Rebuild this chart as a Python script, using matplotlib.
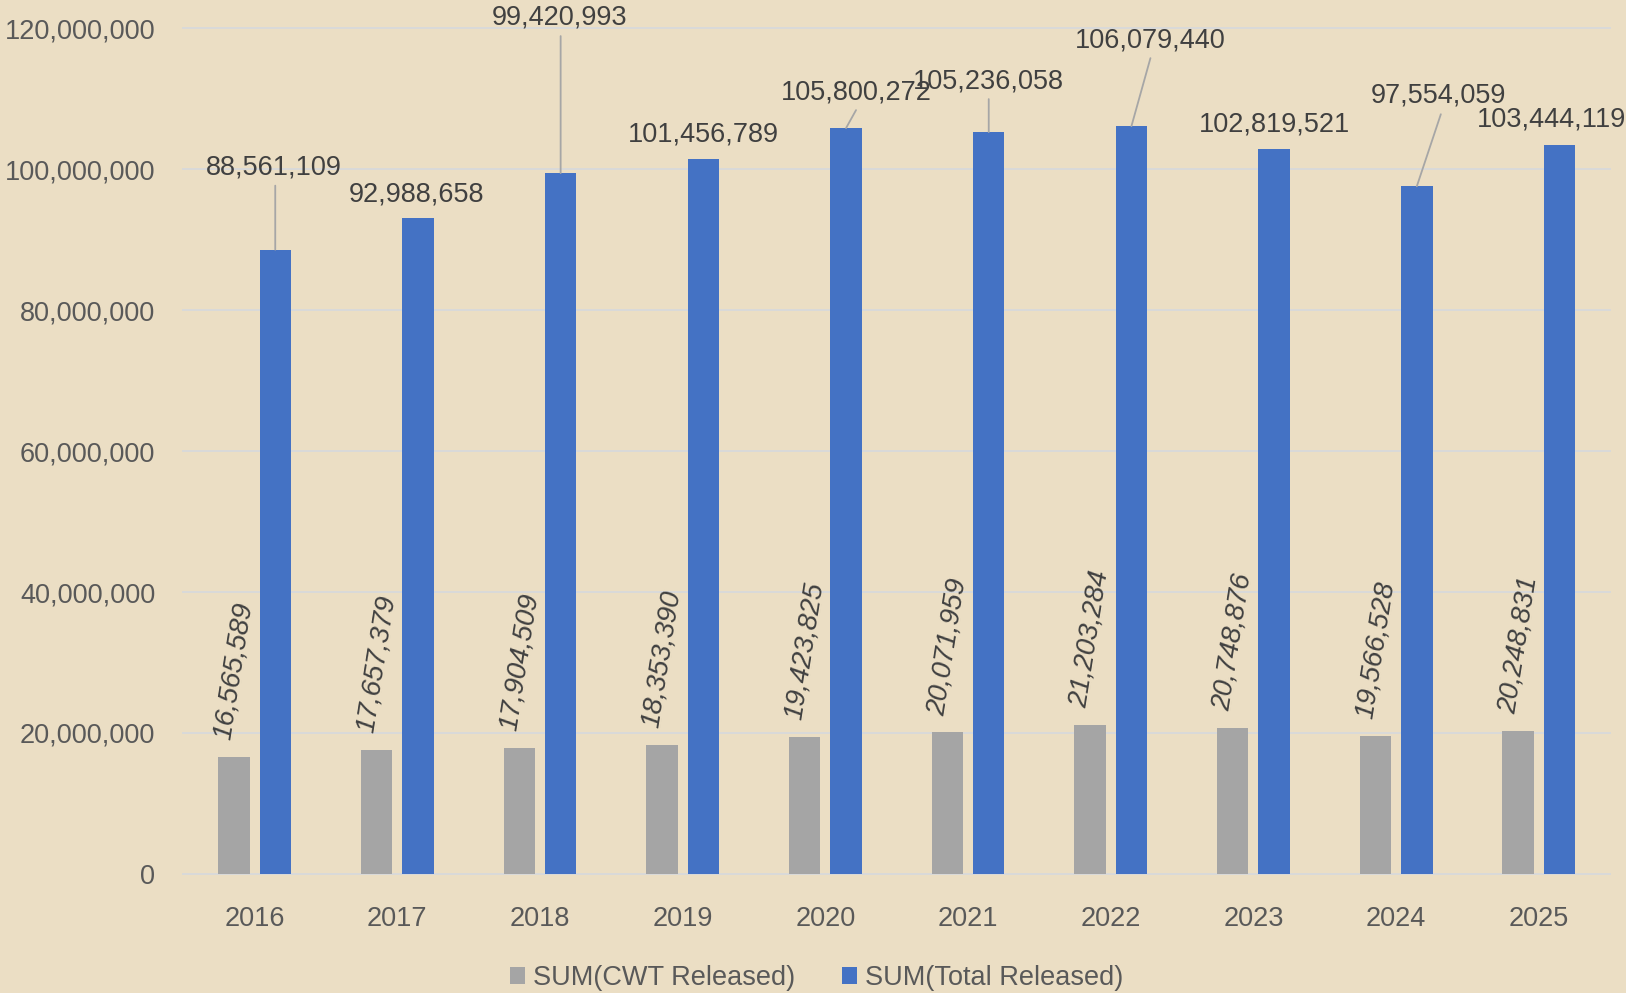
import matplotlib
matplotlib.use('Agg')
import matplotlib.pyplot as plt
from matplotlib.patches import Patch
import numpy as np

plt.rcParams['font.family'] = ['Liberation Sans', 'DejaVu Sans']

years = ['2016', '2017', '2018', '2019', '2020', '2021', '2022', '2023', '2024', '2025']
cwt_released = [16565589, 17657379, 17904509, 18353390, 19423825,
                20071959, 21203284, 20748876, 19566528, 20248831]
total_released = [88561109, 92988658, 99420993, 101456789, 105800272,
                  105236058, 106079440, 102819521, 97554059, 103444119]

# where the total labels sit, pixels from the top of the bar (x, baseline)
lbl_dx = [-1, -1, -1, 0, 10, 0, 19, 0, 22, -8]
lbl_dy = [75, 17, 149, 17, 29, 44, 79, 18, 84, 18]
# leader line end, pixels from bar top (None = no leader)
leaders = [(0, 64), None, (0, 137), None, (10, 18), (0, 33), (19, 68), None, (24, 72), None]

bg = '#EBDEC4'
grey = '#A5A5A5'
blue = '#4472C4'

fig = plt.figure(figsize=(16.26, 9.93), dpi=100, facecolor=bg)
ax = fig.add_axes([0.11267, 0.11984, 0.87761, 0.85196], facecolor=bg)

x = np.arange(len(years))
w = 0.22
off = 0.145
ax.bar(x - off, cwt_released, w, color=grey, zorder=3)
ax.bar(x + off, total_released, w, color=blue, zorder=3)

ax.set_xlim(-0.5, len(years) - 0.5)
ax.set_ylim(0, 120e6)
ax.set_yticks(np.arange(0, 120e6 + 1, 20e6))
ax.yaxis.set_major_formatter(matplotlib.ticker.FuncFormatter(lambda v, p: '{:,.0f}'.format(v)))
ax.set_xticks(x)
ax.set_xticklabels(years)
ax.tick_params(axis='both', length=0, labelsize=19.5, labelcolor='#595959')
ax.tick_params(axis='y', pad=20)
ax.tick_params(axis='x', pad=23)
for s in ax.spines.values():
    s.set_visible(False)
ax.grid(axis='y', color='#D9D9D9', linewidth=1.4, zorder=0)
for gl in ax.get_ygridlines():
    gl.set_clip_on(False)

# rotated grey labels
for i, v in enumerate(cwt_released):
    ax.annotate('{:,}'.format(v), xy=(x[i] - off, v), xytext=(0, 15.5),
                textcoords='offset pixels', rotation=81, ha='center', va='bottom',
                fontsize=20, style='italic', color='#404040', annotation_clip=False)

# total labels + leader lines
for i, v in enumerate(total_released):
    if leaders[i] is not None:
        ax.annotate('', xy=(x[i] + off, v), xytext=leaders[i], textcoords='offset pixels',
                    arrowprops=dict(arrowstyle='-', color='#A6A6A6', lw=1.3,
                                    shrinkA=0, shrinkB=0),
                    annotation_clip=False, zorder=4)
    ax.annotate('{:,}'.format(v), xy=(x[i] + off, v), xytext=(lbl_dx[i], lbl_dy[i]),
                textcoords='offset pixels', ha='center', va='baseline',
                fontsize=19.5, color='#404040', annotation_clip=False, zorder=5)

handles = [Patch(facecolor=grey, label='SUM(CWT Released)'),
           Patch(facecolor=blue, label='SUM(Total Released)')]
leg = fig.legend(handles=handles, loc='center', bbox_to_anchor=(0.502, 0.015), ncol=2,
                 frameon=False, fontsize=19.5, handlelength=0.58, handleheight=0.58,
                 handletextpad=0.26, columnspacing=1.74)
for t in leg.get_texts():
    t.set_color('#595959')

fig.savefig('out.png', dpi=100, facecolor=bg)
